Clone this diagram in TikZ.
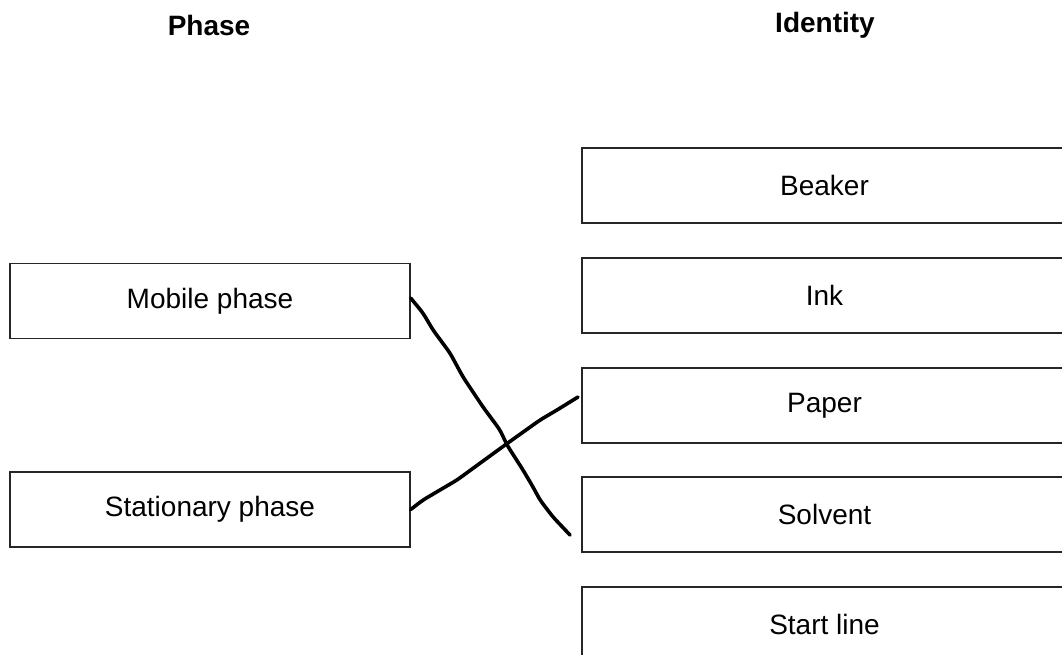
\documentclass[tikz,border=0pt]{standalone}
\usepackage{fontspec}
\setmainfont{Liberation Sans}
\begin{document}
\begin{tikzpicture}[x=1pt,y=-1pt,
  box/.style={draw=black!85,line width=1.3pt,rectangle,inner sep=0pt,minimum height=75pt,font=\fontsize{28}{33}\selectfont},
  leftbox/.style={box,minimum width=400pt},
  rightbox/.style={box,minimum width=485pt},
  head/.style={font=\fontsize{28}{33}\selectfont\bfseries},
  hand/.style={line width=3.6pt,line cap=round,line join=round,rounded corners=5pt}]
\useasboundingbox (0,0) rectangle (1062,654);
\clip (0,0) rectangle (1062,654);
\node[head] (phase) at (209,25) {Phase};
\node[head] (ident) at (825,25) {Identity};
\node[leftbox] (mob) at (210,301) {Mobile phase};
\node[leftbox] (stat) at (210,509.5) {Stationary phase};
\node[rightbox] (beak) at (824.5,185.5) {Beaker};
\node[rightbox] (ink) at (824.5,295.5) {Ink};
\node[rightbox] (pap) at (824.5,405.5) {Paper};
\node[rightbox] (solv) at (824.5,514.5) {Solvent};
\node[rightbox] (start) at (824.5,624.5) {Start line};
\coordinate (e1) at (570,535);
\coordinate (e2) at (578,397);
\draw[hand] ([yshift=3pt]mob.east) -- (423,313) -- (433,330) -- (450,353) -- (463,377) -- (483,407) -- (500,430) -- (507,445) -- (523,470) -- (533,487) -- (540,500) -- (553,517) -- (e1);
\draw[hand] (stat.east) -- (423,500) -- (457,480) -- (505,445) -- (540,420) -- (557,410) -- (e2);
\end{tikzpicture}
\end{document}
